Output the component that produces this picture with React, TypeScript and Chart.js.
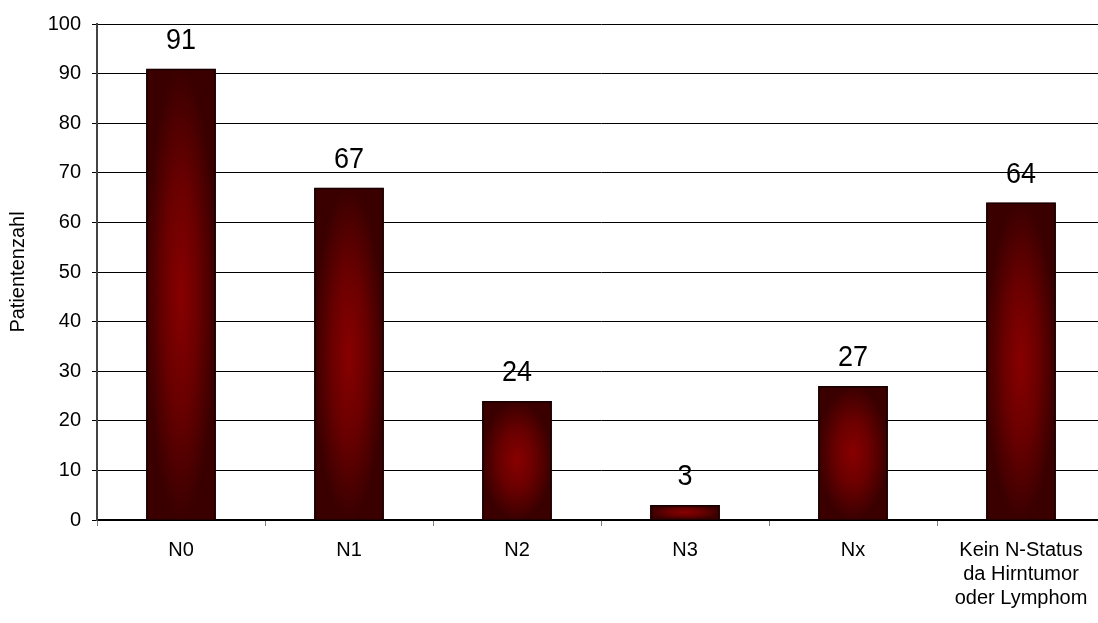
import React, { useEffect, useRef } from "react";
import { Chart, registerables } from "chart.js";

Chart.register(...registerables);

// N-Status categories and patient counts
const categories: (string | string[])[] = [
  "N0",
  "N1",
  "N2",
  "N3",
  "Nx",
  ["Kein N-Status", "da Hirntumor", "oder Lymphom"],
];
const patientCounts: number[] = [91, 67, 24, 3, 27, 64];
const yTickValues: number[] = [0, 10, 20, 30, 40, 50, 60, 70, 80, 90, 100];

const FONT = '"Liberation Sans", Arial, Helvetica, sans-serif';

// Fills each bar with a dark-red elliptical gradient that brightens toward the middle
const barShade = {
  id: "barShade",
  beforeDatasetDraw(chart: any, args: any) {
    const c: CanvasRenderingContext2D = chart.ctx;
    args.meta.data.forEach((el: any) => {
      const { x, y, base, width } = el.getProps(["x", "y", "base", "width"], true);
      const left = x - width / 2;
      const top = Math.min(y, base);
      const h = Math.abs(base - y);
      if (h <= 0) return;
      c.save();
      c.beginPath();
      c.rect(left, top, width, h);
      c.clip();
      c.translate(x, top + h / 2);
      c.scale(width / 2, h / 2);
      const g = c.createRadialGradient(0, 0, 0, 0, 0, 1);
      g.addColorStop(0, "#880000");
      g.addColorStop(0.5, "#690000");
      g.addColorStop(1, "#3a0000");
      c.fillStyle = g;
      c.fillRect(-1.6, -1.6, 3.2, 3.2);
      c.restore();
    });
  },
};

// Writes each bar's value above it, in slightly tall lettering
const valueLabels = {
  id: "valueLabels",
  afterDatasetsDraw(chart: any) {
    const c: CanvasRenderingContext2D = chart.ctx;
    const meta = chart.getDatasetMeta(0);
    const values = chart.data.datasets[0].data as number[];
    c.save();
    c.font = `27px ${FONT}`;
    c.fillStyle = "#000";
    c.textAlign = "center";
    c.textBaseline = "alphabetic";
    meta.data.forEach((el: any, i: number) => {
      const { x, y } = el.getProps(["x", "y"], true);
      c.save();
      c.translate(x, y - 20);
      c.scale(1, 1.1);
      c.fillText(String(values[i]), 0, 0);
      c.restore();
    });
    c.restore();
  },
};

export default function App() {
  const canvasRef = useRef<HTMLCanvasElement | null>(null);

  useEffect(() => {
    document.body.style.margin = "0";
    document.body.style.overflow = "hidden";
    const canvas = canvasRef.current;
    if (!canvas) return;
    const chart = new Chart(canvas, {
      type: "bar",
      data: {
        labels: categories,
        datasets: [
          {
            data: patientCounts,
            backgroundColor: "rgba(0,0,0,0)",
            borderColor: "#140000",
            borderWidth: 1.5,
            barPercentage: 0.415,
            categoryPercentage: 1,
          },
        ],
      },
      options: {
        responsive: false,
        animation: false,
        devicePixelRatio: 1,
        layout: { padding: { top: 24, right: 1, bottom: 0, left: 0 } },
        plugins: {
          legend: { display: false },
          tooltip: { enabled: false },
        },
        scales: {
          x: {
            offset: true,
            grid: {
              offset: true,
              drawOnChartArea: false,
              drawTicks: true,
              tickLength: 6,
              color: "#808080",
              lineWidth: 1,
            },
            border: { display: true, color: "#000", width: 1.5 },
            ticks: {
              color: "#000",
              font: { family: FONT, size: 20, lineHeight: 1.2 },
              padding: 12,
              maxRotation: 0,
              autoSkip: false,
            },
            afterFit(scale: any) {
              scale.height = 103;
            },
          },
          y: {
            min: 0,
            max: 100,
            afterBuildTicks(scale: any) {
              scale.ticks = yTickValues.map((v) => ({ value: v }));
            },
            grid: {
              color: "#000",
              lineWidth: 1,
              drawTicks: true,
              tickLength: 5,
            },
            border: { display: true, color: "#444", width: 2 },
            ticks: {
              color: "#000",
              font: { family: FONT, size: 20 },
              padding: 11,
            },
            title: {
              display: true,
              text: "Patientenzahl",
              color: "#000",
              font: { family: FONT, size: 20 },
              padding: { top: 6, bottom: 0 },
            },
            afterFit(scale: any) {
              scale.width = 97;
            },
          },
        },
      },
      plugins: [barShade, valueLabels],
    });
    return () => chart.destroy();
  }, []);

  return (
    <canvas
      ref={canvasRef}
      width={1106}
      height={623}
      style={{ display: "block", width: 1106, height: 623 }}
    />
  );
}
